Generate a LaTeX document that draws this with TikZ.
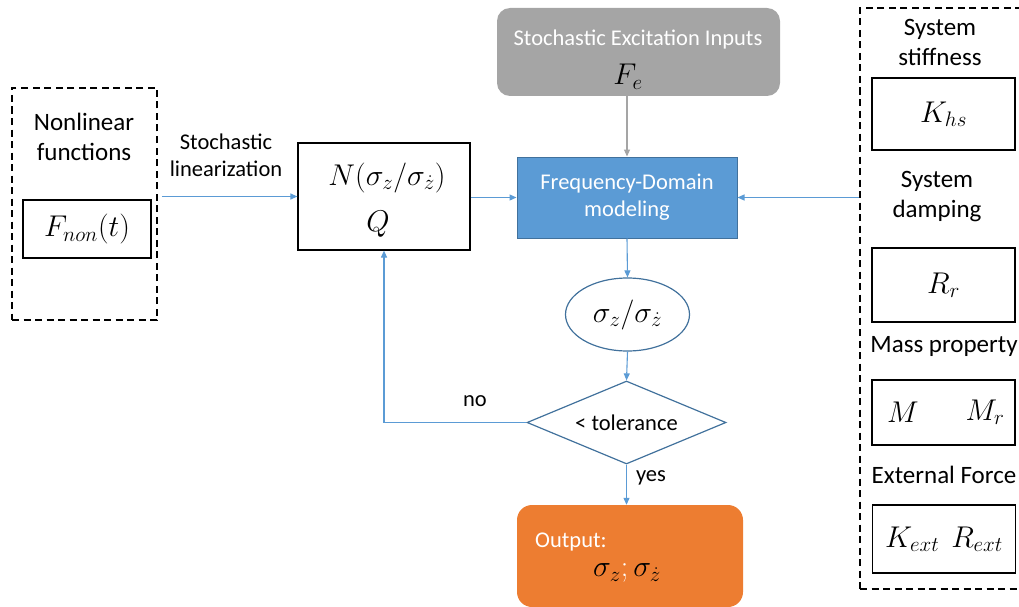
\RequirePackage{fix-cm}
\documentclass[tikz,border=0pt]{standalone}
\usepackage{fontspec}
\setmainfont{Carlito}
\usetikzlibrary{arrows.meta,shapes.geometric}
\definecolor{lblue}{HTML}{5B9BD5}
\definecolor{dblue}{HTML}{41719C}
\definecolor{greyc}{HTML}{A5A5A5}
\definecolor{orangec}{HTML}{ED7D31}
\begin{document}
\begin{tikzpicture}[x=1pt,y=-1pt,
  dbox/.style={draw, line width=1.5pt, dash pattern=on 7pt off 4.5pt, inner sep=0},
  box/.style={draw, line width=1.2pt, inner sep=0},
  arr/.style={draw=lblue, line width=1.1pt, -{Triangle[length=7pt,width=6pt]}},
  garr/.style={draw=greyc, line width=1.1pt, -{Triangle[length=7pt,width=6pt]}},
  lab/.style={font=\fontsize{22.5}{27}\selectfont, align=center, inner sep=0},
  biglab/.style={font=\fontsize{25}{30}\selectfont, align=center, inner sep=0},
  mth/.style={font=\fontsize{30}{34}\selectfont, inner sep=0}]
\useasboundingbox (0,0) rectangle (1019,607);
\clip (0,0) rectangle (1019,607);

% left dashed group
\node[dbox, minimum width=145pt, minimum height=232pt] (nl) at (84.5,204) {};
\node[biglab] (nlt) at (84,137) {Nonlinear\\functions};
\node[box, minimum width=128pt, minimum height=58pt, mth] (fnon) at (87,229) {$F_{non}(t)$};

% N box
\node[box, minimum width=172pt, minimum height=107pt] (nbox) at (384,196.5) {};
\node[mth] (ntext) at (387,178) {$N(\sigma_z/\sigma_{\dot z})$};
\node[mth] (qtext) at (378,224) {$Q$};
\node[lab] (slin) at (226,155) {Stochastic\\linearization};

% excitation
\node[fill=greyc, rounded corners=13pt, minimum width=283pt, minimum height=88pt, inner sep=0] (exc) at (638.5,52) {};
\node[lab, text=white] (exct) at (638,40) {Stochastic Excitation Inputs};
\node[mth] (fe) at (628,77) {$F_e$};

% frequency domain
\node[fill=lblue, draw=dblue, line width=1pt, minimum width=220pt, minimum height=81pt, inner sep=0, lab, text=white] (fd) at (627,197.5) {Frequency-Domain\\modeling};

% ellipse
\node[ellipse, draw=dblue, line width=1.2pt, minimum width=124pt, minimum height=73pt, inner sep=0, mth] (sig) at (627.5,314.5) {$\sigma_z/\sigma_{\dot z}$};

% diamond
\node[diamond, draw=dblue, line width=1.2pt, aspect=2.4, minimum width=199pt, minimum height=83pt, inner sep=0, lab] (dia) at (626.5,422.5) {< tolerance};

% output
\node[fill=orangec, rounded corners=15pt, minimum width=226pt, minimum height=102pt, inner sep=0] (out) at (630,556) {};
\node[lab, text=white, anchor=west] (outt) at (535,542) {Output:};
\node[mth] (outm) at (627,573) {$\sigma_z\textcolor{white}{;}\,\sigma_{\dot z}$};

% right dashed group
\node[dbox, minimum width=170pt, minimum height=581pt] (rd) at (945,298.5) {};
\node[biglab] (t1) at (940,42) {System\\stiffness};
\node[box, minimum width=143pt, minimum height=72pt, mth] (khs) at (943.5,114) {$K_{hs}$};
\node[biglab] (t2) at (937,197) {System\\damping};
\node[box, minimum width=143pt, minimum height=74pt, mth] (rr) at (943.5,285) {$R_r$};
\node[biglab] (t3) at (944,346) {Mass property};
\node[box, minimum width=143pt, minimum height=65pt] (mm) at (943.5,412.5) {};
\node[mth] (m1) at (903,412) {$M$};
\node[mth] (m2) at (985,412) {$M_r$};
\node[biglab] (t4) at (944,475) {External Force};
\node[box, minimum width=143pt, minimum height=68pt, mth] (kext) at (944,539) {$K_{ext}\hspace{12pt}R_{ext}$};

% connectors
\draw[arr, shorten <=4pt] (nl.east |- nbox.west) -- (nbox.west);
\draw[arr] (nbox.east |- fd.west) -- (fd.west);
\draw[arr] (rd.west |- fd.east) -- (fd.east);
\draw[garr] (fd.north |- exc.south) -- (fd.north);
\draw[arr] (fd.south) -- (sig.north);
\draw[arr] (sig.south) -- (dia.north);
\draw[arr] (dia.west) -| (nbox.south);
\draw[arr] (dia.south) -- (dia.south |- out.north);
\node[lab] (no) at (475,401) {no};
\node[lab] (yes) at (651,478) {yes};
\end{tikzpicture}
\end{document}
